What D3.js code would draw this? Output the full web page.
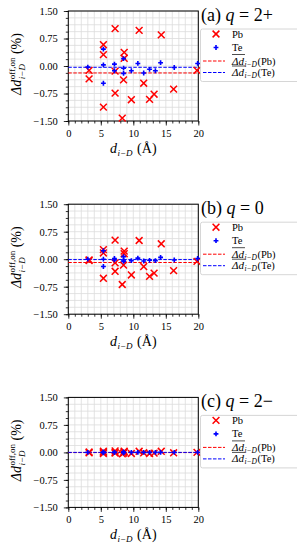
<!DOCTYPE html>
<html>
<head>
<meta charset="utf-8">
<script src="https://cdn.jsdelivr.net/npm/d3@7"></script>
<style>
  body { margin: 0; background: #fff; }
  svg text { font-family: "Liberation Serif", "Times New Roman", serif !important; fill: #000; }
</style>
</head>
<body>
<div id="chart"></div>
<script>
// axis ticks
var xTicks = [0, 5, 10, 15, 20];
var yTicks = [-1.5, -0.75, 0, 0.75, 1.5];

// distances d_{i-D} (Å)
var pbDist = [3.2, 3.2, 5.4, 5.4, 5.4, 7.2, 7.2, 7.2, 8.6, 8.6, 8.5, 8.3, 9.7, 10.9, 11.6, 12.5, 13.2, 14.3, 16.2, 19.8];
var teDist = [3.0, 5.4, 5.4, 5.4, 7.1, 7.1, 8.5, 8.5, 8.5, 9.7, 10.7, 11.6, 12.5, 13.4, 14.2, 16.3, 19.9];

// (a) q = 2+
var pbA = [-0.12, -0.35, 0.58, 0.31, -1.12, 1.02, -0.14, -0.74, 0.37, 0.21, -0.38, -1.42, -0.92, 0.97, -0.47, -0.91, -0.77, 0.85, -0.63, -0.12];
var teA = [-0.03, 0.46, 0.03, -0.47, 0.05, -0.13, 0.2, -0.06, -0.2, -0.13, 0.07, -0.19, -0.09, -0.13, 0.09, -0.04, 0.07];
// (b) q = 0
var pbB = [-0.02, -0.04, 0.26, 0.17, -0.52, 0.52, -0.1, -0.33, 0.22, 0.15, -0.16, -0.69, -0.43, 0.51, -0.2, -0.47, -0.38, 0.42, -0.31, -0.06];
var teB = [0.0, 0.23, 0.0, -0.2, 0.02, -0.02, 0.07, -0.02, -0.06, -0.04, 0.03, -0.05, -0.03, -0.04, 0.05, -0.02, 0.02];
// (c) q = 2-
var pbC = [0.01, -0.01, 0.03, 0.0, -0.03, 0.04, 0.0, -0.02, 0.03, 0.01, -0.02, -0.04, -0.03, 0.03, -0.01, -0.03, -0.02, 0.03, -0.01, 0.0];
var teC = [0, 0.01, 0, -0.01, 0, 0, 0.01, 0, -0.01, 0, 0, 0, 0, 0, 0, 0, 0];

// mean lines
var pbMeans = [-0.19, -0.09, -0.005];
var teMeans = [-0.035, -0.01, 0.0];
var panelLabels = ["(a) ", "(b) ", "(c) "];
var panelQ = ["2+", "0", "2\u2212"];

var W = 297, H = 550;
var left = 68.3, right = 198.3, ph = 110;
var tops = [11, 204.2, 397.4];

var svg = d3.select("#chart").append("svg").attr("width", W).attr("height", H);

var x = d3.scaleLinear().domain([0, 20]).range([left, right]);
var fmt = d3.format(".2f");

function drawPanel(i, pbVals, teVals) {
  var top = tops[i];
  var y = d3.scaleLinear().domain([-1.5, 1.5]).range([top + ph, top]);
  var g = svg.append("g");

  // grid
  g.append("g").selectAll("line").data(d3.range(0, 21)).enter().append("line")
    .attr("x1", (d) => x(d)).attr("x2", (d) => x(d))
    .attr("y1", top).attr("y2", top + ph)
    .attr("stroke", "#dcdcdc").attr("stroke-width", 0.8);
  g.append("g").selectAll("line").data(d3.range(0, 17).map((k) => -1.5 + k * 0.1875)).enter().append("line")
    .attr("x1", left).attr("x2", right)
    .attr("y1", (d) => y(d)).attr("y2", (d) => y(d))
    .attr("stroke", "#dcdcdc").attr("stroke-width", 0.8);

  // minor ticks
  g.append("g").attr("transform", "translate(0," + (top + ph) + ")")
    .call(d3.axisBottom(x).tickValues(d3.range(0, 21)).tickSize(2.5).tickFormat(""))
    .call((a) => a.select(".domain").remove());
  g.append("g").attr("transform", "translate(" + left + ",0)")
    .call(d3.axisLeft(y).tickValues(d3.range(0, 17).map((k) => -1.5 + k * 0.1875)).tickSize(2.5).tickFormat(""))
    .call((a) => a.select(".domain").remove());

  // major ticks
  var xa = g.append("g").attr("transform", "translate(0," + (top + ph) + ")")
    .call(d3.axisBottom(x).tickValues(xTicks).tickSize(4.5).tickPadding(4).tickFormat(d3.format("d")));
  xa.select(".domain").remove();
  xa.selectAll("text").attr("font-size", 10.5);
  var ya = g.append("g").attr("transform", "translate(" + left + ",0)")
    .call(d3.axisLeft(y).tickValues(yTicks).tickSize(4.5).tickPadding(6).tickFormat((d) => fmt(d)));
  ya.select(".domain").remove();
  ya.selectAll("text").attr("font-size", 10.5);
  g.selectAll(".tick line").attr("stroke", "#000").attr("stroke-width", 0.8);

  // frame
  g.append("rect").attr("x", left).attr("y", top).attr("width", right - left).attr("height", ph)
    .attr("fill", "none").attr("stroke", "#000").attr("stroke-width", 1);

  // mean lines
  g.append("line").attr("x1", x(0)).attr("x2", x(20))
    .attr("y1", y(pbMeans[i])).attr("y2", y(pbMeans[i]))
    .attr("stroke", "#ff0000").attr("stroke-width", 1).attr("stroke-dasharray", "3.5,1.5");
  g.append("line").attr("x1", x(0)).attr("x2", x(20))
    .attr("y1", y(teMeans[i])).attr("y2", y(teMeans[i]))
    .attr("stroke", "#0000ff").attr("stroke-width", 1).attr("stroke-dasharray", "3.5,1.5");

  // Pb crosses
  g.append("g").selectAll("path").data(pbDist.map((d, k) => [d, pbVals[k]])).enter().append("path")
    .attr("transform", (d) => "translate(" + x(d[0]) + "," + y(d[1]) + ")")
    .attr("d", "M-3.4,-3.4L3.4,3.4M-3.4,3.4L3.4,-3.4")
    .attr("stroke", "#ff0000").attr("stroke-width", 1.5).attr("fill", "none");
  // Te plus
  g.append("g").selectAll("path").data(teDist.map((d, k) => [d, teVals[k]])).enter().append("path")
    .attr("transform", (d) => "translate(" + x(d[0]) + "," + y(d[1]) + ")")
    .attr("d", d3.symbol().type(d3.symbolCross).size(13))
    .attr("fill", "#0000ff");

  // y label
  var yl = g.append("g");
  var t1 = yl.append("text").attr("font-size", 14).attr("font-style", "italic").text("\u0394d");
  var w1 = t1.node().getComputedTextLength();
  var sup = yl.append("text").attr("x", w1 + 0.5).attr("y", -6).attr("font-size", 9).text("off,on");
  var sub = yl.append("text").attr("x", w1 + 0.5).attr("y", 3.5).attr("font-size", 9).attr("font-style", "italic").text("i\u2212D");
  var w2 = Math.max(sup.node().getComputedTextLength(), sub.node().getComputedTextLength());
  var t3 = yl.append("text").attr("x", w1 + w2 + 4).attr("font-size", 14).text("(%)");
  var wt = w1 + w2 + 4 + t3.node().getComputedTextLength();
  yl.attr("transform", "translate(21," + (top + 53 + wt / 2) + ") rotate(-90)");

  // x label
  var xl = g.append("g");
  var u1 = xl.append("text").attr("font-size", 14).attr("font-style", "italic").text("d");
  var v1 = u1.node().getComputedTextLength();
  var u2 = xl.append("text").attr("x", v1 + 0.5).attr("y", 3).attr("font-size", 9).attr("font-style", "italic").text("i\u2212D");
  var v2 = u2.node().getComputedTextLength();
  var u3 = xl.append("text").attr("x", v1 + v2 + 5).attr("font-size", 14).text("(\u00c5)");
  var vt = v1 + v2 + 5 + u3.node().getComputedTextLength();
  xl.attr("transform", "translate(" + ((left + right) / 2 - vt / 2) + "," + (top + 142) + ")");

  // panel title
  var tt = g.append("text").attr("x", 201).attr("y", top + 9.5).attr("font-size", 18);
  tt.append("tspan").text(panelLabels[i]);
  tt.append("tspan").attr("font-style", "italic").text("q");
  tt.append("tspan").text(" = " + panelQ[i]);

  // legend
  var lg = g.append("g");
  lg.append("rect").attr("x", 200.5).attr("y", top + 18).attr("width", 100).attr("height", 52.5)
    .attr("rx", 2).attr("fill", "#fff").attr("fill-opacity", 0.85)
    .attr("stroke", "#cccccc").attr("stroke-width", 0.8);
  lg.append("path").attr("transform", "translate(216," + (top + 23) + ")")
    .attr("d", "M-3.4,-3.4L3.4,3.4M-3.4,3.4L3.4,-3.4")
    .attr("stroke", "#ff0000").attr("stroke-width", 1.5);
  lg.append("text").attr("x", 232).attr("y", top + 26.5).attr("font-size", 10.5).text("Pb");
  lg.append("path").attr("transform", "translate(216," + (top + 36.5) + ")")
    .attr("d", d3.symbol().type(d3.symbolCross).size(13)).attr("fill", "#0000ff");
  lg.append("text").attr("x", 232).attr("y", top + 39.5).attr("font-size", 10.5).text("Te");

  [["Pb", "#ff0000", top + 50], ["Te", "#0000ff", top + 61.5]].forEach(function (r) {
    lg.append("line").attr("x1", 203).attr("x2", 225).attr("y1", r[2]).attr("y2", r[2])
      .attr("stroke", r[1]).attr("stroke-width", 1).attr("stroke-dasharray", "3.5,1.5");
    var a = lg.append("text").attr("x", 232).attr("y", r[2] + 3.5).attr("font-size", 11)
      .attr("font-style", "italic").text("\u0394d");
    var aw = a.node().getComputedTextLength();
    lg.append("line").attr("x1", 232).attr("x2", 232 + aw + 1).attr("y1", r[2] - 6.5).attr("y2", r[2] - 6.5)
      .attr("stroke", "#000").attr("stroke-width", 0.7);
    var b = lg.append("text").attr("x", 232 + aw + 0.5).attr("y", r[2] + 5.5).attr("font-size", 7.5)
      .attr("font-style", "italic").text("i\u2212D");
    var bw = b.node().getComputedTextLength();
    lg.append("text").attr("x", 232 + aw + bw + 1).attr("y", r[2] + 3.5).attr("font-size", 10.5).text("(" + r[0] + ")");
  });
}

drawPanel(0, pbA, teA);
drawPanel(1, pbB, teB);
drawPanel(2, pbC, teC);
</script>
</body>
</html>
